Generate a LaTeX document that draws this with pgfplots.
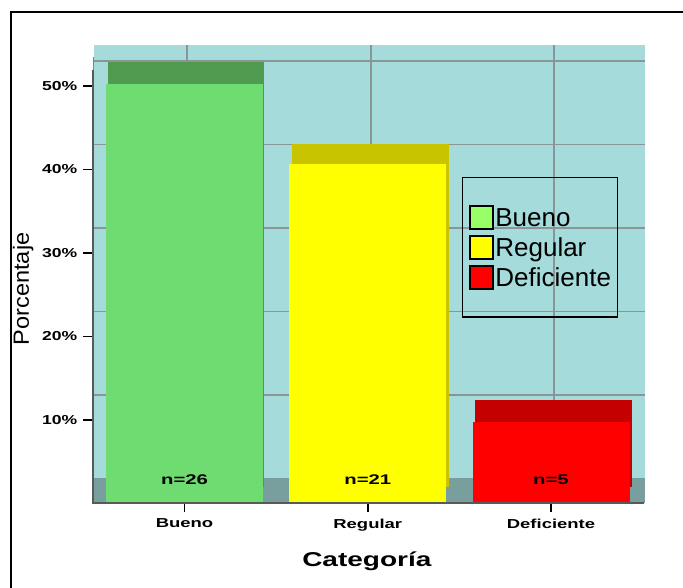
\documentclass[border=0pt]{standalone}
\usepackage{fontspec}
\setmainfont{Liberation Sans}
\usepackage{pgfplots}
\pgfplotsset{compat=1.18}
\definecolor{panel}{HTML}{A5DBDA}
\definecolor{floorband}{HTML}{789E9E}
\definecolor{gridgray}{HTML}{8A9696}
\definecolor{greenfront}{HTML}{6EDC70}
\definecolor{greenback}{HTML}{4E9A4E}
\definecolor{yellowfront}{HTML}{FFFF00}
\definecolor{yellowback}{HTML}{C8C400}
\definecolor{redfront}{HTML}{FF0000}
\definecolor{redback}{HTML}{C40000}
\definecolor{swatchgreen}{HTML}{99FF66}
\newcommand{\swatch}[1]{\path[draw=none] (0pt,0pt) -- (26.5pt,0pt);\draw[black,line width=1.8pt,fill=#1] (1pt,-11pt) rectangle (24pt,12pt);}
\begin{document}
\begin{tikzpicture}[x=1pt,y=1pt]
\path[use as bounding box,fill=white] (0,0) rectangle (683,588);
\draw[black,line width=2pt] (683,575.5) -- (10.5,575.5) -- (10.5,0);
% back wall with the gridlines and the floor band
\begin{axis}[
  at={(94pt,84.5pt)},anchor=south west,scale only axis,
  width=551pt,height=458.5pt,
  xmin=-0.494,xmax=2.513,ymin=0,ymax=54.9,
  axis background/.style={fill=panel},
  axis line style={draw=none},
  tick style={draw=none},
  xtick={0.014,1.018,2.016},ytick={13,23,33,43,53},
  xticklabels={},yticklabels={},
  grid=major,
  grid style={gridgray,line width=1.6pt},
]
\addplot[fill=floorband,draw=none] coordinates {(-0.494,0)(-0.494,3.05)(2.513,3.05)(2.513,0)} --cycle;
\end{axis}
% bars, axes and legend
\begin{axis}[
  at={(92pt,84.5pt)},anchor=south west,scale only axis,
  width=553pt,height=458.5pt,
  xmin=-0.505,xmax=2.513,ymin=0,ymax=54.9,
  clip=false,
  axis line style={draw=none},
  xtick pos=bottom,ytick pos=left,
  tick align=outside,
  major tick length=9pt,
  tick style={black,line width=1.5pt},
  xtick={0,1,2},
  xticklabels={Bueno,Regular,Deficiente},
  ytick={10,20,30,40,50},
  yticklabels={10\%,20\%,30\%,40\%,50\%},
  xticklabel style={font=\fontsize{13}{13}\selectfont\bfseries,xscale=1.42,yshift=-6pt},
  yticklabel style={font=\fontsize{13}{13}\selectfont\bfseries,xscale=1.35,xshift=-4pt},
  tick label style={inner sep=0pt},
  xlabel={Categoría},
  xlabel style={at={(axis description cs:0.497,-0.127)},anchor=center,inner sep=0pt,
    font=\fontsize{20}{20}\selectfont\bfseries,xscale=1.4},
  ylabel={Porcentaje},
  ylabel style={at={(axis description cs:-0.1246,0.468)},anchor=center,rotate=0,inner sep=0pt,
    font=\fontsize{22}{22}\selectfont,xscale=1.07},
  legend style={at={(0.810,0.5585)},anchor=center,draw=black,line width=1.6pt,fill=none,
    inner xsep=6.5pt,inner ysep=27.5pt,row sep=5pt,
    nodes={inner sep=0pt,text height=21pt,text depth=3pt,font=\fontsize{26}{26}\selectfont}},
  legend cell align=left,
]
% receding top faces and right edges of the boxes
\addplot[forget plot,fill=greenback,draw=none] coordinates {(-0.417,2)(-0.417,52.9)(0.435,52.9)(0.435,2)} --cycle;
\addplot[forget plot,fill=yellowback,draw=none] coordinates {(0.585,2)(0.585,43.05)(1.441,43.05)(1.441,2)} --cycle;
\addplot[forget plot,fill=redback,draw=none] coordinates {(1.585,2)(1.585,12.35)(2.44,12.35)(2.44,2)} --cycle;
% front faces
\addplot[forget plot,ybar,bar shift=0pt,bar width=157pt,fill=greenfront,draw=none] coordinates {(0,50.2)};
\addplot[forget plot,ybar,bar shift=0pt,bar width=157pt,fill=yellowfront,draw=none] coordinates {(1,40.7)};
\addplot[forget plot,ybar,bar shift=0pt,bar width=157pt,fill=redfront,draw=none] coordinates {(2,9.8)};
\addlegendimage{legend image code/.code={\swatch{swatchgreen}}}
\addlegendentry{Bueno}
\addlegendimage{legend image code/.code={\swatch{yellowfront}}}
\addlegendentry{Regular}
\addlegendimage{legend image code/.code={\swatch{redfront}}}
\addlegendentry{Deficiente}
\node[font=\fontsize{14}{14}\selectfont\bfseries,xscale=1.45] at (axis cs:0,2.9) {n=26};
\node[font=\fontsize{14}{14}\selectfont\bfseries,xscale=1.45] at (axis cs:1,2.9) {n=21};
\node[font=\fontsize{14}{14}\selectfont\bfseries,xscale=1.45] at (axis cs:2,2.9) {n=5};
% left and bottom axis lines
\draw[gray,line width=0.8pt] (axis cs:-0.496,51.9) -- (axis cs:-0.496,53.5);
\draw[black!65,line width=2pt] (axis cs:-0.5,51.9) -- (axis cs:-0.5,0) -- (axis cs:2.505,0);
\end{axis}
\end{tikzpicture}
\end{document}
